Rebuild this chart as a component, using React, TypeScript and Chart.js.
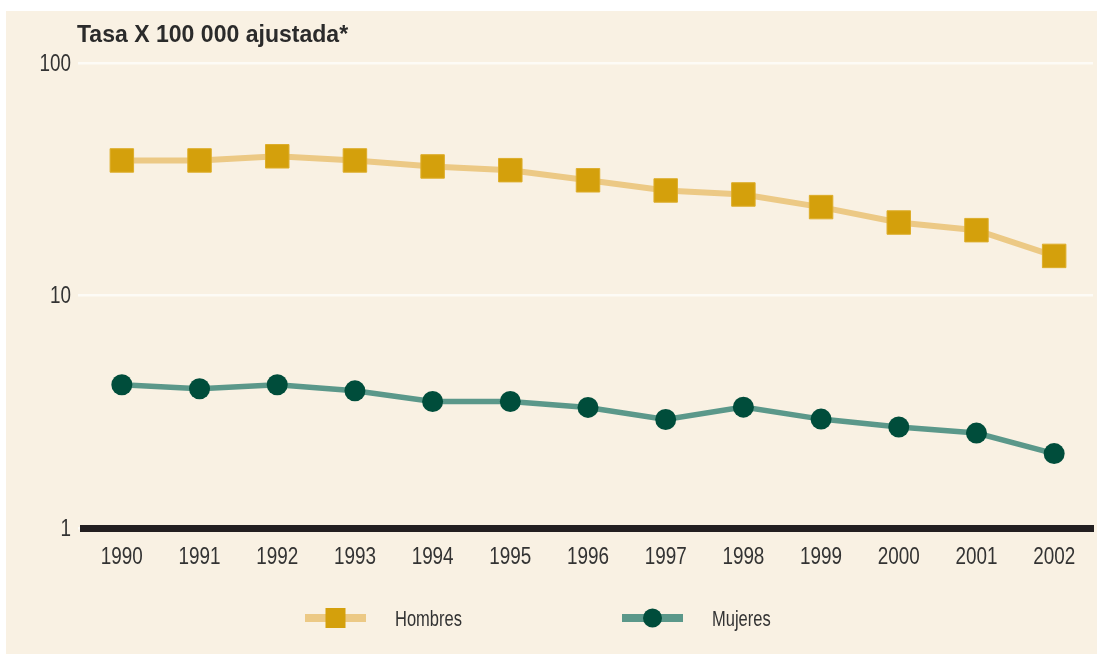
import React, { useEffect, useRef } from 'react';
import { Chart, registerables } from 'chart.js';

Chart.register(...registerables);

const years = ['1990', '1991', '1992', '1993', '1994', '1995', '1996', '1997', '1998', '1999', '2000', '2001', '2002'];
const hombres = [38.1, 38.1, 39.7, 38.1, 35.9, 34.6, 31.3, 28.3, 27.2, 24.0, 20.6, 19.1, 14.8];
const mujeres = [4.13, 3.97, 4.13, 3.89, 3.5, 3.5, 3.3, 2.93, 3.31, 2.94, 2.72, 2.56, 2.09];
const yTickValues = [1, 10, 100];
const titleText = 'Tasa X 100 000 ajustada*';
const seriesNames = ['Hombres', 'Mujeres'];

const SANS = '"Liberation Sans", Arial, Helvetica, sans-serif';

function drawScaledText(
  ctx: CanvasRenderingContext2D,
  text: string,
  x: number,
  y: number,
  font: string,
  scaleX: number,
  align: CanvasTextAlign,
  color: string
) {
  ctx.save();
  ctx.translate(x, y);
  ctx.scale(scaleX, 1);
  ctx.font = font;
  ctx.fillStyle = color;
  ctx.textAlign = align;
  ctx.textBaseline = 'alphabetic';
  ctx.fillText(text, 0, 0);
  ctx.restore();
}

const overlayPlugin = {
  id: 'overlay',
  afterDraw(chart: any, _args: any, opts: any) {
    const { ctx, chartArea } = chart;
    const xScale = chart.scales.x;
    const yScale = chart.scales.y;
    ctx.save();

    // title
    drawScaledText(ctx, opts.title, chartArea.left + opts.titleDx, chartArea.top + opts.titleDy,
      'bold 24px ' + SANS, 0.96, 'left', '#2b2b2b');

    // y tick labels
    yScale.ticks.forEach((t: any) => {
      const py = yScale.getPixelForValue(t.value);
      drawScaledText(ctx, String(t.value), chartArea.left + opts.yLabelDx, py + opts.yLabelDy,
        '23px ' + SANS, 0.82, 'right', '#333333');
    });

    // x tick labels
    chart.data.labels.forEach((lab: string, i: number) => {
      const px = xScale.getPixelForTick(i);
      drawScaledText(ctx, lab, px, chartArea.bottom + opts.xLabelDy,
        '23px ' + SANS, 0.82, 'center', '#333333');
    });

    // legend
    chart.data.datasets.forEach((ds: any, i: number) => {
      const item = opts.items[i];
      const y = chartArea.bottom + opts.legendDy;
      const x0 = chartArea.left + item.x;
      ctx.strokeStyle = ds.borderColor;
      ctx.lineWidth = opts.legendLineWidth;
      ctx.lineCap = 'butt';
      ctx.beginPath();
      ctx.moveTo(x0, y);
      ctx.lineTo(x0 + opts.legendLineLen, y);
      ctx.stroke();
      const cx = x0 + opts.legendLineLen / 2;
      ctx.fillStyle = ds.pointBackgroundColor;
      if (ds.pointStyle === 'rect') {
        const s = opts.squareSize;
        ctx.fillRect(cx - s / 2, y - s / 2, s, s);
      } else {
        ctx.beginPath();
        ctx.arc(cx, y, opts.circleRadius, 0, Math.PI * 2);
        ctx.fill();
      }
      drawScaledText(ctx, ds.label, x0 + opts.textDx, y + opts.textDy, '22px ' + SANS, 0.75, 'left', '#333333');
    });
    ctx.restore();
  },
};

export default function App() {
  const canvasRef = useRef<HTMLCanvasElement | null>(null);

  useEffect(() => {
    if (!canvasRef.current) return;
    const chart = new Chart(canvasRef.current, {
      type: 'line',
      data: {
        labels: years,
        datasets: [
          {
            label: seriesNames[0],
            data: hombres,
            borderColor: '#ECC985',
            backgroundColor: '#D4A00C',
            borderWidth: 6,
            tension: 0,
            pointStyle: 'rect',
            pointRadius: 16.6,
            pointBackgroundColor: '#D4A00C',
            pointBorderColor: '#DDAD2A',
            pointBorderWidth: 1,
          },
          {
            label: seriesNames[1],
            data: mujeres,
            borderColor: '#5B988A',
            backgroundColor: '#004D3B',
            borderWidth: 5.5,
            tension: 0,
            pointStyle: 'circle',
            pointRadius: 10.5,
            pointBackgroundColor: '#004D3B',
            pointBorderColor: '#004D3B',
            pointBorderWidth: 0,
          },
        ],
      },
      options: {
        responsive: false,
        animation: false,
        devicePixelRatio: 1,
        layout: { autoPadding: false, padding: { left: 0, right: 4, top: 52, bottom: 0 } },
        plugins: {
          legend: { display: false },
          tooltip: { enabled: false },
          title: { display: false },
          overlay: {
            title: titleText,
            titleDx: -6,
            titleDy: -21.5,
            yLabelDx: -12,
            yLabelDy: 7.5,
            xLabelDy: 36,
            legendDy: 90,
            legendLineLen: 61,
            legendLineWidth: 8,
            squareSize: 20,
            circleRadius: 9.5,
            textDx: 90,
            textDy: 8,
            items: [{ x: 222 }, { x: 539 }],
          },
        } as any,
        scales: {
          x: {
            type: 'category',
            offset: true,
            grid: { display: false, drawTicks: false },
            border: { display: true, color: '#231F20', width: 7 },
            ticks: { display: false, autoSkip: false },
            afterFit: (scale: any) => {
              scale.height = 126;
              scale.paddingLeft = 0;
              scale.paddingRight = 0;
            },
          },
          y: {
            type: 'logarithmic',
            min: 1,
            max: 100,
            afterBuildTicks: (scale: any) => {
              scale.ticks = yTickValues.map((v) => ({ value: v }));
            },
            afterFit: (scale: any) => {
              scale.width = 77;
              scale.paddingTop = 0;
              scale.paddingBottom = 0;
            },
            grid: {
              color: (c: any) => (c.tick && c.tick.value === 1 ? 'rgba(0,0,0,0)' : '#FDFBF6'),
              tickColor: '#FDFBF6',
              lineWidth: 2.5,
              drawTicks: true,
              tickLength: 5,
            },
            border: { display: false },
            ticks: { display: false },
          },
        },
      } as any,
      plugins: [overlayPlugin as any],
    });
    return () => chart.destroy();
  }, []);

  return (
    <div style={{ position: 'fixed', left: 0, top: 0, width: 1097, height: 655, background: '#ffffff' }}>
      <div style={{ position: 'absolute', left: 6, top: 11, width: 1091, height: 643, background: '#F9F1E3' }}>
        <canvas ref={canvasRef} width={1091} height={643} style={{ display: 'block' }} />
      </div>
    </div>
  );
}
